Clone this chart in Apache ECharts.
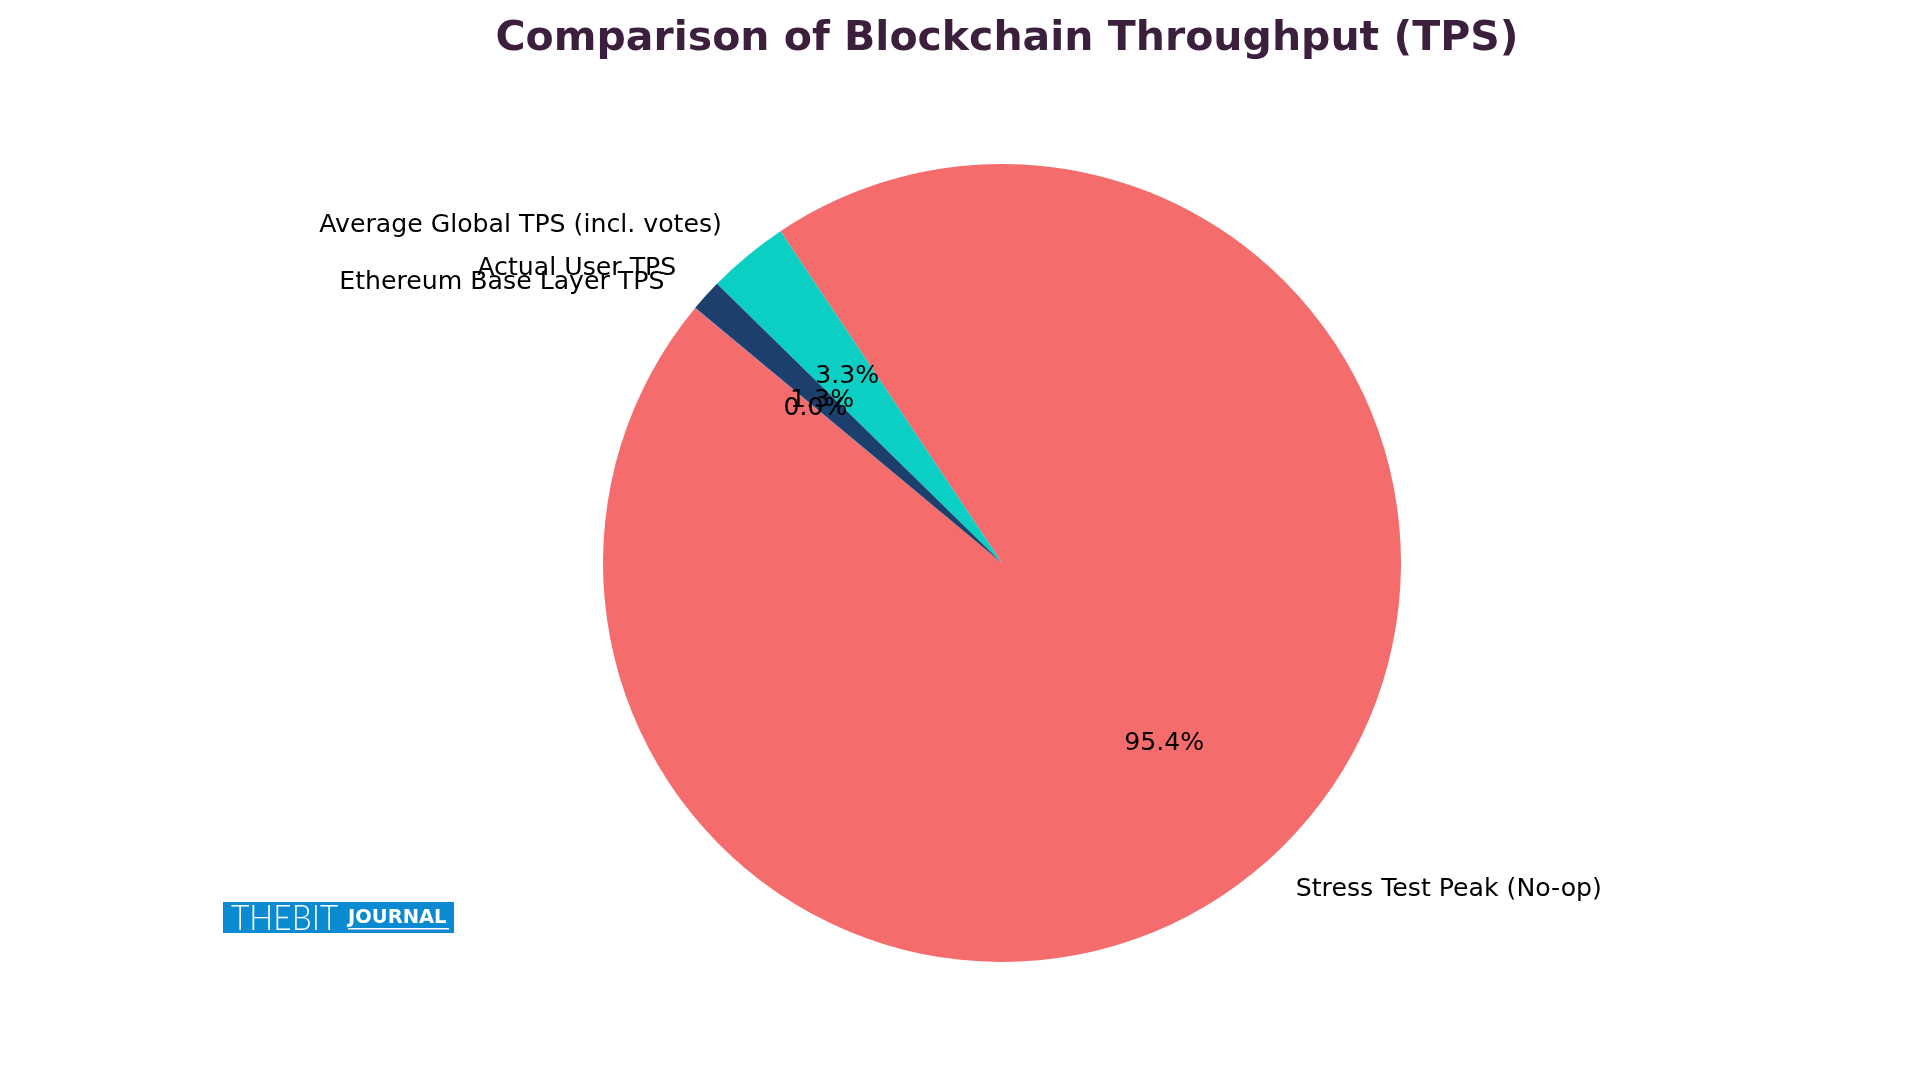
<!DOCTYPE html>
<html>
<head>
<meta charset="utf-8">
<script src="https://cdn.jsdelivr.net/npm/echarts@6/dist/echarts.min.js"></script>
<style>
  html, body { margin: 0; padding: 0; background: #fff; }
  #chart { width: 1920px; height: 1080px; }
</style>
</head>
<body>
<div id="chart"></div>
<script>
// data
const labels = ['Stress Test Peak (No-op)', 'Average Global TPS (incl. votes)', 'Actual User TPS', 'Ethereum Base Layer TPS'];
const tps = [107000, 3700, 1450, 15];
const colors = ['#f56c6c', '#0ccfc4', '#1c3f6b', '#7b5ea7'];

const total = tps.reduce((a, b) => a + b, 0);
const pieData = labels.map((name, i) => ({ name, value: tps[i], itemStyle: { color: colors[i] } }));

// pie geometry — matplotlib style, counterclockwise
const CX = 1002, CY = 563, R = 399;
const START = 140.3;
const FONT = 'DejaVu Sans';

const chart = echarts.init(document.getElementById('chart'));
chart.setOption({
  backgroundColor: '#ffffff',
  animation: false,
  title: {
    text: 'Comparison of Blockchain Throughput (TPS)',
    left: CX,
    textAlign: 'center',
    top: 14,
    textStyle: { fontFamily: FONT, fontSize: 41, fontWeight: 'bold', color: '#3b1f3d' }
  },
  series: [
    {
      // slices + outside name labels
      type: 'pie',
      center: [CX, CY],
      radius: [0, R],
      startAngle: START,
      clockwise: false,
      avoidLabelOverlap: false,
      silent: true,
      data: pieData,
      itemStyle: { borderWidth: 0 },
      label: {
        show: true,
        position: 'outside',
        formatter: '{b}',
        fontFamily: FONT,
        fontSize: 25.2,
        color: '#000',
        distanceToLabelLine: 0
      },
      labelLine: { show: false, length: R * 0.1, length2: 0 },
      labelLayout: { hideOverlap: false }
    },
    {
      // transparent copy only for the % labels at 0.6r
      type: 'pie',
      center: [CX, CY],
      radius: [R * 0.2, R],
      startAngle: START,
      clockwise: false,
      avoidLabelOverlap: false,
      silent: true,
      data: pieData.map(d => ({ name: d.name, value: d.value })),
      itemStyle: { color: 'rgba(0,0,0,0)', borderWidth: 0 },
      label: {
        show: true,
        position: 'inside',
        formatter: p => (p.value / total * 100).toFixed(1) + '%',
        fontFamily: FONT,
        fontSize: 25.2,
        color: '#000'
      },
      labelLine: { show: false },
      labelLayout: { hideOverlap: false }
    }
  ],
  graphic: [
    // watermark logo
    { type: 'rect', shape: { x: 223, y: 902, width: 231, height: 31 }, style: { fill: '#0a8ad0' } },
    { type: 'text', x: 231, y: 918, scaleX: 0.88, style: { text: 'THEBIT', fontFamily: 'Lato', fontWeight: 300, fontSize: 36, fill: '#fff', verticalAlign: 'middle' } },
    { type: 'text', x: 348, y: 918, style: { text: 'JOURNAL', fontFamily: FONT, fontWeight: 'bold', fontSize: 19.5, fill: '#fff', verticalAlign: 'middle' } },
    { type: 'rect', shape: { x: 348, y: 928, width: 101, height: 1.5 }, style: { fill: '#fff' } }
  ]
});
</script>
</body>
</html>
